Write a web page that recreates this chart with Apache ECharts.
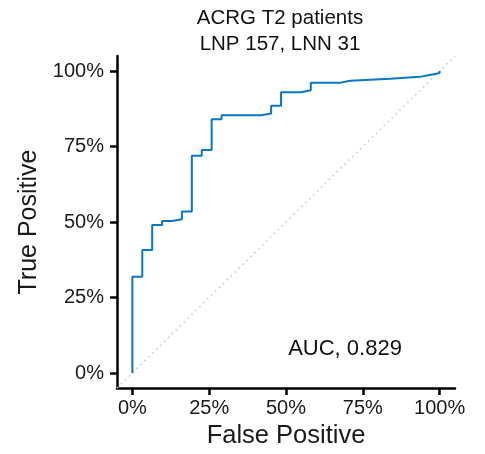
<!DOCTYPE html>
<html>
<head>
<meta charset="utf-8">
<script src="https://cdn.jsdelivr.net/npm/echarts@6/dist/echarts.min.js"></script>
<style>
  html, body { margin: 0; padding: 0; background: #fff; }
  #chart { width: 485px; height: 454px; }
</style>
</head>
<body>
<div id="chart"></div>
<script>
// Group sizes
const nPositive = 157;   // LNP
const nNegative = 31;    // LNN

// ROC curve corners: cumulative false-positive and true-positive counts
const fpCounts = [0, 0, 1, 2, 3, 4, 5, 6, 7, 8, 9, 13, 14, 15, 17, 18, 21, 22, 26, 29, 30, 31];
const tpCounts = [0, 50, 64, 77, 79, 80, 84, 113, 116, 132, 134, 135, 139, 146, 147, 151, 152, 153, 154, 155, 156, 157];

// Axis ticks
const tickValues = [0, 0.25, 0.5, 0.75, 1];
const tickLabels = ['0%', '25%', '50%', '75%', '100%'];

const titleLines = ['ACRG T2 patients', 'LNP 157, LNN 31'];

const rocPoints = fpCounts.map((fp, i) => [fp / nNegative, tpCounts[i] / nPositive]);

// Area under the step curve
let auc = 0;
for (let i = 1; i < rocPoints.length; i++) {
  auc += (rocPoints[i][0] - rocPoints[i - 1][0]) * rocPoints[i - 1][1];
}

const FONT = 'Liberation Sans, Arial, sans-serif';
const chart = echarts.init(document.getElementById('chart'), null, { renderer: 'canvas' });

function axisOptions(labelMargin, nameSize) {
  return {
    type: 'value',
    min: -0.05,
    max: 1.05,
    splitLine: { show: false },
    axisLine: { show: true, onZero: false, lineStyle: { color: '#000', width: 2.5 } },
    axisTick: { show: true, customValues: tickValues, length: 7, lineStyle: { color: '#000', width: 2.5 } },
    axisLabel: {
      customValues: tickValues,
      formatter: v => tickLabels[tickValues.findIndex(t => Math.abs(t - v) < 1e-9)] || '',
      color: '#1a1a1a',
      fontSize: 20,
      fontFamily: FONT,
      margin: labelMargin
    },
    nameLocation: 'middle',
    nameTextStyle: { color: '#1a1a1a', fontSize: nameSize, fontFamily: FONT }
  };
}

chart.setOption({
  animation: false,
  backgroundColor: '#fff',
  grid: { left: 117, right: 30, top: 56, bottom: 63, containLabel: false },
  xAxis: Object.assign(axisOptions(10, 25.5), { name: 'False Positive', nameGap: 34 }),
  yAxis: Object.assign(axisOptions(13, 25), { name: 'True Positive', nameGap: 75 }),
  series: [
    {
      type: 'line',
      data: [[-0.05, -0.05], [1.05, 1.05]],
      symbol: 'none',
      silent: true,
      lineStyle: { color: '#c8c8c8', width: 1.6, type: [1.5, 4] },
      z: 1
    },
    {
      type: 'line',
      data: rocPoints,
      step: 'end',
      symbol: 'none',
      lineStyle: { color: '#0a76c6', width: 2 },
      z: 2
    }
  ],
  graphic: [
    {
      type: 'text',
      x: 280,
      y: 5,
      style: {
        text: titleLines.join('\n'),
        font: '20.5px ' + FONT,
        fill: '#111',
        textAlign: 'center',
        lineHeight: 26
      }
    },
    {
      type: 'text',
      x: 345,
      y: 349,
      style: {
        text: 'AUC, ' + auc.toFixed(3),
        font: '22px ' + FONT,
        fill: '#111',
        textAlign: 'center',
        textVerticalAlign: 'middle'
      }
    }
  ]
});
</script>
</body>
</html>
